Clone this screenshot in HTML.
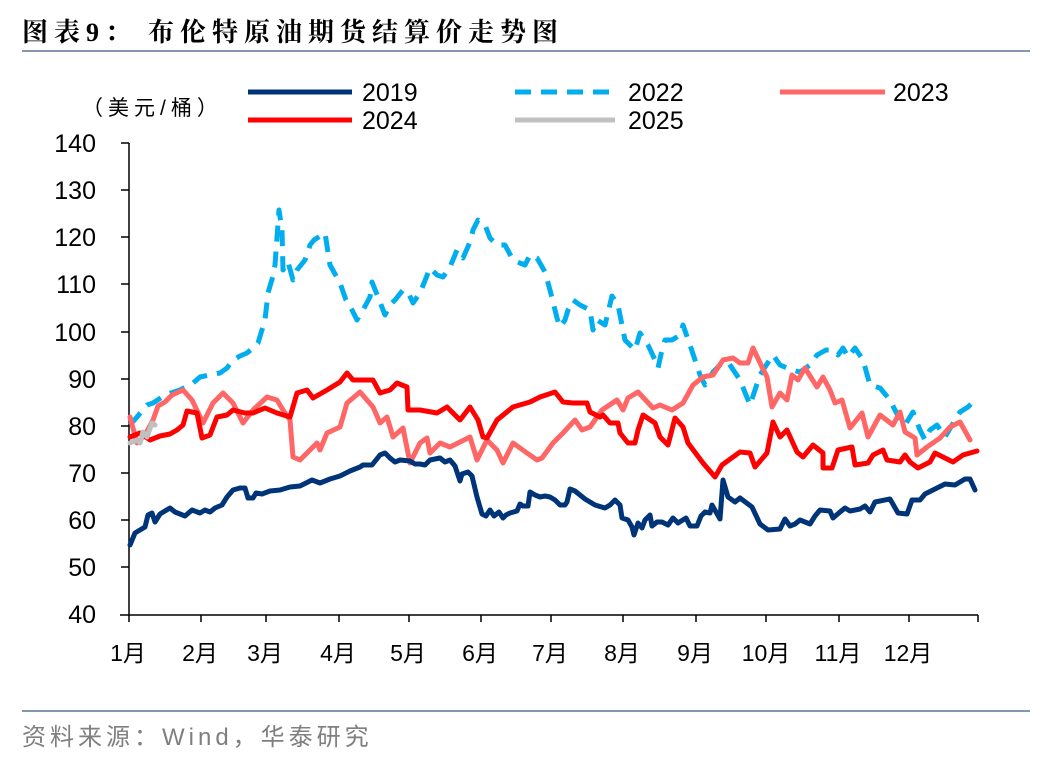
<!DOCTYPE html>
<html><head><meta charset="utf-8"><style>
body{margin:0;background:#fff;}
svg{display:block;font-family:"Liberation Sans","Noto Sans CJK SC",sans-serif;}
</style></head><body>
<svg width="1048" height="760" viewBox="0 0 1048 760" xmlns="http://www.w3.org/2000/svg">
<text x="22" y="41" font-size="26" font-weight="bold" fill="#000" font-family="'Liberation Serif','Noto Serif CJK SC',serif" letter-spacing="6">图表9：<tspan x="148">布伦特原油期货结算价走势图</tspan></text>
<line x1="22" y1="51" x2="1030" y2="51" stroke="#8496b0" stroke-width="2"/>
<line x1="22" y1="711" x2="1030" y2="711" stroke="#8496b0" stroke-width="2"/>
<text x="22" y="745" font-size="24" fill="#7f7f7f" letter-spacing="4">资料来源：Wind，华泰研究</text>
<text x="82" y="115" font-size="21" fill="#000" letter-spacing="5">（美元/桶）</text>
<!-- legend -->
<g font-size="25" fill="#000">
<line x1="248" y1="92" x2="352" y2="92" stroke="#003478" stroke-width="5"/><text x="362" y="101">2019</text>
<line x1="515" y1="92" x2="615" y2="92" stroke="#00aeef" stroke-width="5" stroke-dasharray="16 10"/><text x="628" y="101">2022</text>
<line x1="780" y1="92" x2="885" y2="92" stroke="#ff6666" stroke-width="5"/><text x="893" y="101">2023</text>
<line x1="248" y1="120" x2="352" y2="120" stroke="#ff0000" stroke-width="5"/><text x="362" y="129">2024</text>
<line x1="515" y1="120" x2="615" y2="120" stroke="#c0c0c0" stroke-width="5"/><text x="628" y="129">2025</text>
</g>
<!-- axes -->
<g stroke="#000" stroke-width="1.5">
<line x1="129" y1="143" x2="129" y2="615"/>
<line x1="120" y1="615" x2="978" y2="615"/>
<line x1="121" y1="143" x2="129" y2="143"/><line x1="121" y1="190" x2="129" y2="190"/><line x1="121" y1="237" x2="129" y2="237"/><line x1="121" y1="284" x2="129" y2="284"/><line x1="121" y1="332" x2="129" y2="332"/><line x1="121" y1="379" x2="129" y2="379"/><line x1="121" y1="426" x2="129" y2="426"/><line x1="121" y1="473" x2="129" y2="473"/><line x1="121" y1="520" x2="129" y2="520"/><line x1="121" y1="567" x2="129" y2="567"/>
<line x1="129" y1="615" x2="129" y2="622"/><line x1="201" y1="615" x2="201" y2="622"/><line x1="266" y1="615" x2="266" y2="622"/><line x1="339" y1="615" x2="339" y2="622"/><line x1="409" y1="615" x2="409" y2="622"/><line x1="481" y1="615" x2="481" y2="622"/><line x1="551" y1="615" x2="551" y2="622"/><line x1="623" y1="615" x2="623" y2="622"/><line x1="696" y1="615" x2="696" y2="622"/><line x1="766" y1="615" x2="766" y2="622"/><line x1="839" y1="615" x2="839" y2="622"/><line x1="909" y1="615" x2="909" y2="622"/><line x1="978" y1="615" x2="978" y2="622"/>
</g>
<g font-size="25" fill="#000" text-anchor="end">
<text x="96" y="152">140</text><text x="96" y="199">130</text><text x="96" y="246">120</text><text x="96" y="293">110</text><text x="96" y="341">100</text><text x="96" y="388">90</text><text x="96" y="435">80</text><text x="96" y="482">70</text><text x="96" y="529">60</text><text x="96" y="576">50</text><text x="96" y="623">40</text>
</g>
<g font-size="23" fill="#000" text-anchor="middle">
<text x="128" y="661">1月</text><text x="200" y="661">2月</text><text x="265" y="661">3月</text><text x="338" y="661">4月</text><text x="408" y="661">5月</text><text x="480" y="661">6月</text><text x="550" y="661">7月</text><text x="622" y="661">8月</text><text x="695" y="661">9月</text><text x="766" y="661">10月</text><text x="838" y="661">11月</text><text x="908" y="661">12月</text>
</g>
<g fill="none" stroke-width="5" stroke-linejoin="round" stroke-linecap="round">
<polyline stroke="#00aeef" stroke-dasharray="16 10" stroke-linecap="butt" points="130,425 137,417 147,405 153,403 165,395 180,390 193,383 200,377 210,375 220,373 227,368 233,360 240,356 247,353 253,348 258,343 265,320 268,293 273,276 275,265 279,210 282,230 283,270 288,262 293,280 297,270 305,260 310,245 314,240 325,233 330,265 340,283 346,300 352,310 357,320 363,310 370,297 372,282 378,297 385,315 390,305 395,300 403,290 408,292 413,303 420,293 430,268 437,275 443,277 450,267 457,250 463,258 470,242 473,230 478,220 485,225 490,238 497,245 505,245 513,260 520,263 525,265 530,255 537,258 545,272 550,290 557,318 560,327 565,320 568,310 573,300 580,305 590,310 593,330 597,320 605,325 612,296 618,305 625,340 630,345 635,350 640,333 648,345 655,360 658,368 662,350 665,340 672,340 680,335 683,325 690,345 700,375 705,385 713,372 720,365 728,362 740,380 750,405 760,375 765,367 773,355 780,365 792,370 800,372 810,365 817,355 826,350 832,350 838,355 843,348 848,357 855,348 863,360 870,385 880,388 890,400 900,420 905,425 913,412 920,430 925,440 930,430 937,425 945,437 955,420 960,412 968,407 977,398"/>
<polyline stroke="#ff6666" points="130,417 137,443 145,435 153,420 158,406 165,402 172,395 183,390 192,400 203,423 213,403 223,393 233,403 243,423 253,410 267,397 277,400 283,410 290,420 293,457 300,460 310,450 317,443 320,450 327,433 340,427 347,403 360,392 373,407 380,423 387,417 393,437 403,428 410,463 420,443 427,438 430,453 440,443 450,447 470,437 477,460 487,440 497,450 503,463 513,443 527,453 537,460 542,458 553,443 563,433 575,420 582,430 590,427 602,410 617,400 623,410 628,398 638,392 653,408 660,405 672,410 683,403 693,385 703,377 713,375 723,360 733,358 740,363 748,363 753,348 762,367 767,377 772,407 780,393 787,400 792,375 798,380 805,368 817,387 823,377 830,390 835,403 842,400 850,428 862,413 868,437 880,415 893,425 900,412 905,432 915,438 917,455 927,447 940,438 950,427 960,422 970,440"/>
<polyline stroke="#ff0000" points="130,437 140,433 150,440 160,436 170,434 177,430 183,425 187,411 197,413 202,438 210,435 217,417 227,415 233,410 245,413 253,413 265,408 277,413 290,417 297,393 307,390 313,398 327,390 340,382 347,373 353,380 373,380 380,393 390,390 397,383 407,387 408,410 420,410 437,413 447,407 460,420 470,407 478,420 483,437 487,438 497,420 513,407 530,402 540,397 555,392 563,402 573,403 587,403 590,412 600,417 603,415 610,423 618,423 620,433 628,443 635,443 638,430 643,415 655,423 660,437 668,445 675,418 683,427 688,443 703,463 715,477 722,465 733,457 740,452 750,453 755,467 767,453 773,422 780,437 787,430 797,452 803,457 813,445 823,453 823,468 832,468 838,450 852,447 855,465 868,463 873,455 883,450 887,460 900,462 905,455 910,462 918,468 930,462 935,453 953,462 963,455 977,451"/>
<polyline stroke="#003478" points="130,545 135,533 145,527 148,515 152,513 155,522 160,514 170,508 175,512 185,516 192,510 200,513 205,510 210,512 215,508 222,505 227,497 233,490 240,488 245,488 248,498 253,498 256,493 262,494 270,491 280,490 290,487 300,486 312,480 320,483 330,479 340,476 350,471 355,469 360,467 363,465 372,465 380,455 385,453 390,458 395,462 400,460 410,461 415,464 420,464 425,465 430,460 440,458 445,462 450,460 455,466 460,481 462,474 468,472 472,476 477,497 482,514 486,516 490,510 494,516 499,512 503,518 506,515 510,513 517,511 520,504 523,506 528,506 530,492 535,495 540,497 545,496 550,497 555,500 560,505 565,505 567,502 570,489 575,491 580,495 585,499 590,502 595,505 605,508 610,505 615,500 620,505 622,518 628,520 632,527 634,535 638,523 642,528 645,520 650,515 652,526 657,522 662,522 668,525 673,518 678,523 686,518 690,526 697,526 701,516 705,512 710,513 712,505 720,519 723,480 728,497 735,502 740,498 752,507 760,524 768,530 780,529 785,519 790,526 795,524 800,520 810,524 815,516 820,510 830,511 833,518 840,512 845,508 850,511 860,509 865,506 870,512 875,502 890,499 898,513 907,514 912,500 920,500 925,494 935,489 945,484 955,485 965,479 970,479 975,490"/>
<polyline stroke="#c0c0c0" points="130,443 137,440 140,443 143,432 147,437 152,423 155,425"/>
</g>
</svg>
</body></html>
